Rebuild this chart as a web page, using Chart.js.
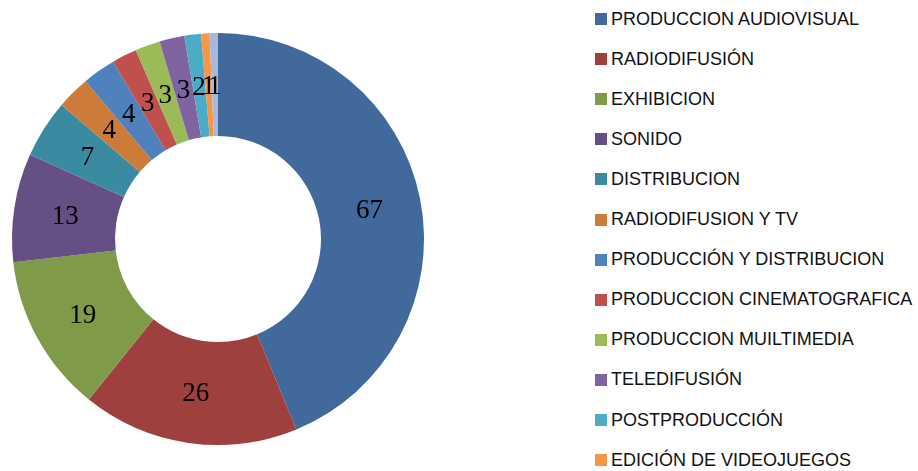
<!DOCTYPE html>
<html>
<head>
<meta charset="utf-8">
<script src="https://cdn.jsdelivr.net/npm/chart.js@4.4.0/dist/chart.umd.min.js"></script>
<style>
  html, body { margin: 0; padding: 0; background: #ffffff; }
  #wrap { position: relative; width: 918px; height: 471px; overflow: hidden; }
  #chartBox { position: absolute; left: 0; top: 0; width: 436px; height: 471px; }
  #legend { position: absolute; left: 595px; top: 0; width: 323px; height: 471px; overflow: hidden;
            font-family: "Liberation Sans", Arial, sans-serif; font-size: 18px; color: #111; }
  .item { position: absolute; left: 0; height: 20px; display: flex; align-items: center; white-space: nowrap; }
  .sw { width: 12px; height: 12px; margin-right: 4px; flex: none; }
</style>
</head>
<body>
<div id="wrap">
  <div id="chartBox"><canvas id="c"></canvas></div>
  <div id="legend"></div>
</div>
<script>
const categories = [
  "PRODUCCION AUDIOVISUAL",
  "RADIODIFUSIÓN",
  "EXHIBICION",
  "SONIDO",
  "DISTRIBUCION",
  "RADIODIFUSION Y TV",
  "PRODUCCIÓN Y DISTRIBUCION",
  "PRODUCCION CINEMATOGRAFICA",
  "PRODUCCION MUILTIMEDIA",
  "TELEDIFUSIÓN",
  "POSTPRODUCCIÓN",
  "EDICIÓN DE VIDEOJUEGOS",
  "OTROS"
];
const values = [67, 26, 19, 13, 7, 4, 4, 3, 3, 3, 2, 1, 1];
const colors = [
  "#42699C", "#9E413E", "#7F9A48", "#664F85", "#3A8BA2", "#CC7B38",
  "#4F81BD", "#C0504D", "#9BBB59", "#8064A2", "#4BACC6", "#F79646", "#A7B9DB"
];

const labelPlugin = {
  id: "sliceLabels",
  afterDatasetsDraw(chart) {
    const ctx = chart.ctx;
    const meta = chart.getDatasetMeta(0);
    ctx.save();
    ctx.font = '27px "Liberation Serif", "Times New Roman", serif';
    ctx.fillStyle = "#000000";
    ctx.textAlign = "center";
    ctx.textBaseline = "middle";
    meta.data.forEach((arc, i) => {
      const p = arc.tooltipPosition();
      ctx.fillText(String(chart.data.datasets[0].data[i]), p.x, p.y + 2);
    });
    ctx.restore();
  }
};

const chart = new Chart(document.getElementById("c"), {
  type: "doughnut",
  data: {
    labels: categories,
    datasets: [{
      data: values,
      backgroundColor: colors,
      borderWidth: 0
    }]
  },
  options: {
    responsive: true,
    maintainAspectRatio: false,
    animation: false,
    cutout: "50%",
    layout: { padding: { left: 12, right: 12, top: 19, bottom: 12 } },
    plugins: { legend: { display: false }, tooltip: { enabled: false } }
  },
  plugins: [labelPlugin]
});

const legend = document.getElementById("legend");
categories.forEach((name, i) => {
  const it = document.createElement("div");
  it.className = "item";
  it.style.top = (9 + i * 40.1) + "px";
  const sw = document.createElement("span");
  sw.className = "sw";
  sw.style.background = colors[i];
  const tx = document.createElement("span");
  tx.textContent = name;
  it.appendChild(sw);
  it.appendChild(tx);
  legend.appendChild(it);
});
</script>
</body>
</html>
